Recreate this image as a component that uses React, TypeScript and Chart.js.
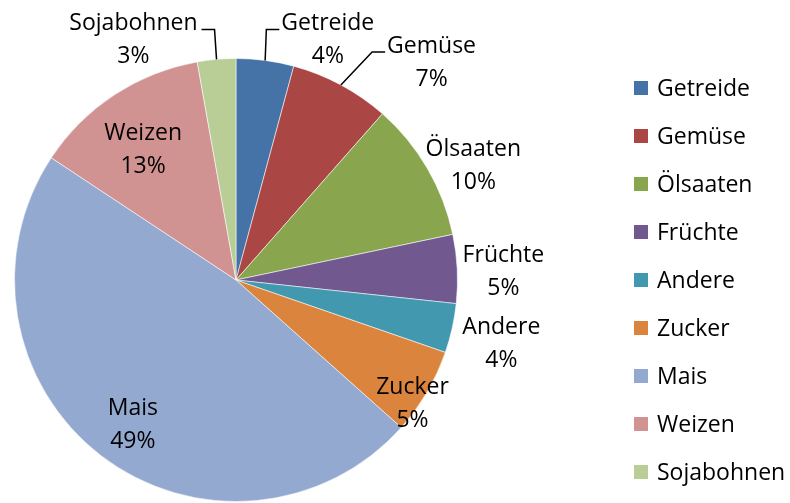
import React, { useEffect, useRef } from "react";
import { Chart, registerables } from "chart.js";

Chart.register(...registerables);

const categories = ["Getreide", "Gemüse", "Ölsaaten", "Früchte", "Andere", "Zucker", "Mais", "Weizen", "Sojabohnen"];
const shares = [4.2, 7.3, 10.2, 5.0, 3.6, 6.3, 47.7, 12.9, 2.8];
const percentLabels = ["4%", "7%", "10%", "5%", "4%", "5%", "49%", "13%", "3%"];
const colors = ["#4572A7", "#AA4643", "#89A54E", "#71588F", "#4198AF", "#DB843D", "#93A9CF", "#D19392", "#B9CD96"];

// label placement: clockwise degrees from 12 o'clock, and distance as a fraction of the radius
const labelAngles = [20.9, 41.9, 64.2, 88.1, 103.5, 125, 215.6, 324.6, 336.9];
const labelRadii = [1.162, 1.322, 1.19, 1.208, 1.232, 0.973, 0.8, 0.724, 1.18];
const leaderSides = ["left", "left", "", "", "", "", "", "", "right"];

const FONT = '23px "Open Sans"';

const labelPlugin = {
  id: "customLabels",
  afterDraw(chart: any) {
    const ctx = chart.ctx as CanvasRenderingContext2D;
    const meta = chart.getDatasetMeta(0);
    ctx.save();
    ctx.font = FONT;
    ctx.fillStyle = "#000";
    ctx.textAlign = "center";
    ctx.textBaseline = "middle";
    meta.data.forEach((arc: any, i: number) => {
      const p = arc.getProps(["x", "y", "outerRadius", "startAngle", "endAngle"], true);
      const R = p.outerRadius;
      const a = (labelAngles[i] * Math.PI) / 180 - Math.PI / 2;
      const lx = p.x + Math.cos(a) * labelRadii[i] * R;
      const ly = p.y + Math.sin(a) * labelRadii[i] * R;
      const l1 = categories[i];
      const l2 = percentLabels[i];
      ctx.fillText(l1, lx, ly - 16);
      ctx.fillText(l2, lx, ly + 17);
      const side = leaderSides[i];
      if (side) {
        const w = ctx.measureText(l1).width;
        const hy = ly - 10;
        const mid = (p.startAngle + p.endAngle) / 2;
        const rx = p.x + Math.cos(mid) * R;
        const ry = p.y + Math.sin(mid) * R;
        const x1 = side === "left" ? lx - w / 2 - 2 : lx + w / 2 + 4;
        const x2 = side === "left" ? x1 - 13 : x1 + 13;
        ctx.beginPath();
        ctx.lineWidth = 1.5;
        ctx.strokeStyle = "#000";
        ctx.moveTo(x1, hy);
        ctx.lineTo(x2, hy);
        ctx.lineTo(rx, ry);
        ctx.stroke();
      }
    });
    ctx.restore();
  },
};

const legendPlugin = {
  id: "customLegend",
  afterDraw(chart: any) {
    const ctx = chart.ctx as CanvasRenderingContext2D;
    const labels: string[] = chart.data.labels;
    const bg: string[] = chart.data.datasets[0].backgroundColor;
    ctx.save();
    ctx.font = FONT;
    ctx.textAlign = "left";
    ctx.textBaseline = "middle";
    const boxX = 634;
    const top = 88;
    const step = 48;
    labels.forEach((t, i) => {
      const y = top + i * step;
      ctx.fillStyle = bg[i];
      ctx.fillRect(boxX, y - 7, 14, 14);
      ctx.fillStyle = "#000";
      ctx.fillText(t, boxX + 23, y + 1);
    });
    ctx.restore();
  },
};

export default function App() {
  const ref = useRef<HTMLCanvasElement | null>(null);
  useEffect(() => {
    if (!ref.current) return;
    const chart = new Chart(ref.current, {
      type: "pie",
      data: {
        labels: categories,
        datasets: [
          {
            data: shares,
            backgroundColor: colors,
            borderColor: "rgba(255,255,255,0.55)",
            borderWidth: 1,
            hoverOffset: 0,
            offset: 0,
          },
        ],
      },
      options: {
        responsive: false,
        animation: false,
        events: [],
        layout: { padding: { top: 58, bottom: 1, left: 14, right: 332 } },
        plugins: {
          legend: { display: false },
          tooltip: { enabled: false },
        },
      },
      plugins: [labelPlugin, legendPlugin],
    });
    return () => chart.destroy();
  }, []);
  return (
    <div style={{ position: "absolute", left: 0, top: 0, width: 790, height: 503, background: "#fff" }}>
      <canvas ref={ref} width={790} height={503} />
    </div>
  );
}
